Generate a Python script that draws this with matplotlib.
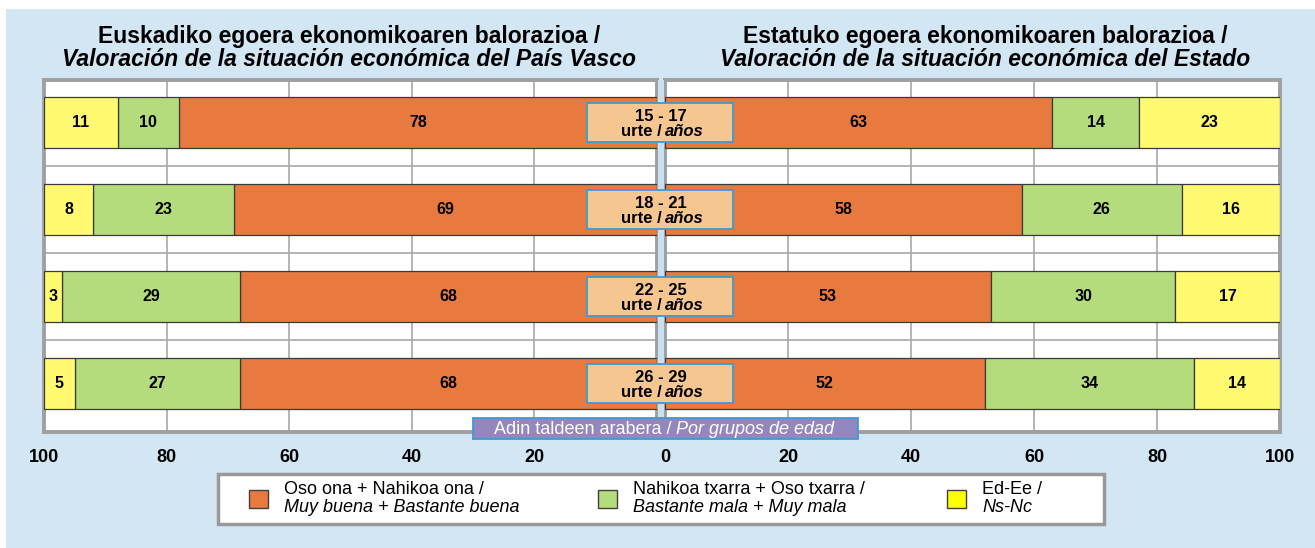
import matplotlib.pyplot as plt
import matplotlib.patches as mpatches
import numpy as np

plt.rcParams['font.family'] = ['Liberation Sans', 'DejaVu Sans']

# data
groups = ["15 - 17", "18 - 21", "22 - 25", "26 - 29"]
pv_good = [78, 69, 68, 68]
pv_bad = [10, 23, 29, 27]
pv_nsnc = [11, 8, 3, 5]
st_good = [63, 58, 53, 52]
st_bad = [14, 26, 30, 34]
st_nsnc = [23, 16, 17, 14]
ticks = [0, 20, 40, 60, 80, 100]

c_good = '#E8793F'
c_bad = '#B4DC7C'
c_nsnc = '#FFFA70'
bg = '#D3E6F4'
grid_c = '#A8A8A8'

W, H = 1315, 548
fig = plt.figure(figsize=(W / 100, H / 100), dpi=100, facecolor='white')
fig.patches.append(mpatches.Rectangle((6 / W, 0), 1, 1 - 9 / H, transform=fig.transFigure,
                                      facecolor=bg, edgecolor='none', zorder=-10))

def px(x0, y0, x1, y1):
    return [x0 / W, 1 - y1 / H, (x1 - x0) / W, (y1 - y0) / H]

axL = fig.add_axes(px(44, 80, 657, 432))
axR = fig.add_axes(px(665, 80, 1280, 432))

y = np.arange(len(groups))
hbar = 0.586

def draw(ax, good, bad, nsnc):
    good = np.array(good); bad = np.array(bad); nsnc = np.array(nsnc)
    # the Ns-Nc segment fills the bar up to 100 % (rounded shares)
    rest = 100 - good - bad
    lefts = [np.zeros(len(good)), good, good + bad]
    for vals, widths, left, col in zip([good, bad, nsnc], [good, bad, rest], lefts,
                                       [c_good, c_bad, c_nsnc]):
        bars = ax.barh(y, widths, left=left, height=hbar, color=col, edgecolor='#3A3A3A',
                       linewidth=0.9, zorder=3)
        for b, v in zip(bars, vals):
            ax.text(b.get_x() + b.get_width() / 2, b.get_y() + b.get_height() / 2, str(v),
                    ha='center', va='center', fontsize=11.5, fontweight='bold', zorder=4)
    ax.set_xlim(0, 100)
    ax.set_ylim(3.557, -0.489)
    ax.set_yticks([])
    for g in [20, 40, 60, 80]:
        ax.axvline(g, color=grid_c, lw=1.2, zorder=1)
    for h in [0.5, 1.5, 2.5]:
        ax.axhline(h, color=grid_c, lw=1.2, zorder=1)
    for s in ax.spines.values():
        s.set_color('#A0A0A0')
        s.set_linewidth(2.8)
    ax.set_xticks(ticks)
    ax.tick_params(axis='x', length=0, pad=12, labelsize=13)
    for lab in ax.get_xticklabels():
        lab.set_fontweight('bold')

draw(axL, pv_good, pv_bad, pv_nsnc)
axL.invert_xaxis()
axL.set_xticks(ticks[1:])
axL.set_xticklabels([str(t) for t in ticks[1:]], fontweight='bold')
draw(axR, st_good, st_bad, st_nsnc)

# titles
fig.text(349 / W, 1 - 37 / H, "Euskadiko egoera ekonomikoaren balorazioa /", ha='center', va='center',
         fontsize=16.5, fontweight='bold')
fig.text(349 / W, 1 - 59 / H, "Valoración de la situación económica del País Vasco", ha='center',
         va='center', fontsize=16.5, fontweight='bold', style='italic')
fig.text(985 / W, 1 - 37 / H, "Estatuko egoera ekonomikoaren balorazioa /", ha='center', va='center',
         fontsize=16.5, fontweight='bold')
fig.text(985 / W, 1 - 59 / H, "Valoración de la situación económica del Estado", ha='center',
         va='center', fontsize=16.5, fontweight='bold', style='italic')

# center strip
fig.patches.append(mpatches.Rectangle((658 / W, 1 - 418 / H), 6 / W, 338 / H, transform=fig.transFigure,
                                      facecolor='#C8E0F2', edgecolor='none', zorder=5))

# age boxes
for i, g in enumerate(groups):
    yc = axL.transData.transform((0, i))[1]
    yc_px = H - yc
    r = mpatches.Rectangle(((660 - 73) / W, 1 - (yc_px + 19.5) / H), 146 / W, 39 / H,
                           transform=fig.transFigure, facecolor='#F5C690', edgecolor='#3C9BD8',
                           linewidth=1.3, zorder=6)
    fig.patches.append(r)
    fig.text(661 / W, 1 - (yc_px - 6.5) / H, g, ha='center', va='center', fontsize=12,
             fontweight='bold', zorder=7)
    fig.text(662 / W, 1 - (yc_px + 9) / H, "urte /", ha='right', va='center', fontsize=12,
             fontweight='bold', zorder=7)
    fig.text(665 / W, 1 - (yc_px + 9) / H, "años", ha='left', va='center', fontsize=12,
             fontweight='bold', style='italic', zorder=7)

# purple label
fig.patches.append(mpatches.Rectangle((473 / W, 1 - 439 / H), 385 / W, 21 / H, transform=fig.transFigure,
                                      facecolor='#9287BE', edgecolor='#3C9BD8', linewidth=1.3, zorder=8))
fig.text(676 / W, 1 - 429 / H, "Adin taldeen arabera / ", ha='right', va='center', fontsize=13,
         color='white', zorder=9)
fig.text(676 / W, 1 - 429 / H, "Por grupos de edad", ha='left', va='center', fontsize=13,
         color='white', style='italic', zorder=9)

# legend
fig.patches.append(mpatches.Rectangle((218 / W, 1 - 524 / H), 886 / W, 50 / H, transform=fig.transFigure,
                                      facecolor='white', edgecolor='#999999', linewidth=2.5, zorder=8))
leg_items = [(c_good, "Oso ona + Nahikoa ona /", "Muy buena + Bastante buena", 249),
             (c_bad, "Nahikoa txarra + Oso txarra /", "Bastante mala + Muy mala", 598),
             ('#FFFF00', "Ed-Ee /", "Ns-Nc", 947)]
for col, l1, l2, x0 in leg_items:
    fig.patches.append(mpatches.Rectangle((x0 / W, 1 - 508 / H), 19 / W, 18 / H, transform=fig.transFigure,
                                          facecolor=col, edgecolor='#404040', linewidth=1, zorder=9))
    fig.text((x0 + 35) / W, 1 - 489 / H, l1, ha='left', va='center', fontsize=13, zorder=9)
    fig.text((x0 + 35) / W, 1 - 508 / H, l2, ha='left', va='center', fontsize=13, style='italic', zorder=9)

fig.savefig('out.png', dpi=100, facecolor=fig.get_facecolor())
